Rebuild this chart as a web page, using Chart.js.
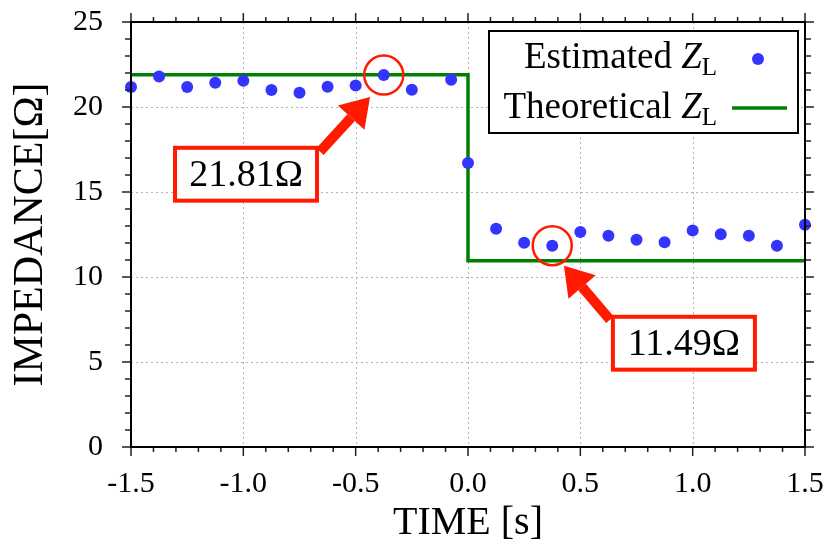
<!DOCTYPE html>
<html>
<head>
<meta charset="utf-8">
<script src="https://cdn.jsdelivr.net/npm/chart.js@4"></script>
<style>
body{margin:0;background:#fff;}
#wrap{width:829px;height:547px;}
</style>
</head>
<body>
<div id="wrap"><canvas id="impChart" width="829" height="547"></canvas></div>
<script>

// ============================================DATA============================================

const estTimes = [-1.5,-1.375,-1.25,-1.125,-1.0,-0.875,-0.75,-0.625,-0.5,-0.375,-0.25,-0.075,0.0,
0.125,0.25,0.375,0.5,0.625,0.75,0.875,1.0,1.125,1.25,1.375,1.5];
const estValues = [21.18,21.8,21.18,21.43,21.55,21.0,20.84,21.19,21.27,21.88,21.02,21.6,16.7,
12.84,12.02,11.84,12.65,12.43,12.19,12.04,12.74,12.51,12.43,11.84,13.08];

const theoryTimes = [-1.5,0,0,1.5];
const theoryValues = [21.9,21.9,10.96,10.96];

const xTicks = [-1.5,-1.0,-0.5,0.0,0.5,1.0,1.5];
const yTicks = [0,5,10,15,20,25];

const annoLabels = ["21.81\u03A9","11.49\u03A9"];

// ============================================STYLE============================================

const FONT = "'Liberation Serif','DejaVu Serif',serif";
const BLUE = "#3434ff";
const GREEN = "#008000";
const RED = "#ff1a00";

// annotations in data coordinates
const annos = [
{circle:[-0.375,21.88], tip:[-0.436,20.59], tail:[-0.659,17.37], box:[-1.304,17.6,-0.672,14.49]},
{circle:[0.375,11.84], tip:[0.427,10.66], tail:[0.632,7.49], box:[0.645,7.66,1.277,4.55]}
];

// ============================================PLUGINS============================================

const gridPlugin = {
id:"gridPlugin",
beforeDatasetsDraw(chart){
const {ctx, chartArea:a, scales:{x,y}} = chart;
ctx.save();
ctx.strokeStyle = "#b4b4b4";
ctx.lineWidth = 1;
ctx.setLineDash([2,3]);
xTicks.forEach(v=>{
const px = Math.round(x.getPixelForValue(v))+0.5;
ctx.beginPath(); ctx.moveTo(px,a.top); ctx.lineTo(px,a.bottom); ctx.stroke();
});
yTicks.forEach(v=>{
const py = Math.round(y.getPixelForValue(v))+0.5;
ctx.beginPath(); ctx.moveTo(a.left,py); ctx.lineTo(a.right,py); ctx.stroke();
});
ctx.restore();
}
};

function arrow(ctx, x0, y0, x1, y1){
const ang = Math.atan2(y1-y0, x1-x0);
const headLen = 28, headW = 18;
const bx = x1 - headLen*Math.cos(ang), by = y1 - headLen*Math.sin(ang);
ctx.beginPath();
ctx.lineWidth = 10;
ctx.lineCap = "butt";
ctx.moveTo(x0,y0); ctx.lineTo(bx,by); ctx.stroke();
ctx.beginPath();
ctx.moveTo(x1,y1);
ctx.lineTo(bx + headW*Math.sin(ang), by - headW*Math.cos(ang));
ctx.lineTo(bx - headW*Math.sin(ang), by + headW*Math.cos(ang));
ctx.closePath();
ctx.fill();
}

function legendRow(ctx, right, base, word){
ctx.font = "25px "+FONT;
const wL = ctx.measureText("L").width;
ctx.font = "italic 37px "+FONT;
const wZ = ctx.measureText("Z").width;
ctx.font = "37px "+FONT;
const wW = ctx.measureText(word+" ").width;
let sx = right - wL - wZ - wW;
ctx.fillText(word+" ", sx, base);
sx += wW;
ctx.font = "italic 37px "+FONT;
ctx.fillText("Z", sx, base);
sx += wZ;
ctx.font = "25px "+FONT;
ctx.fillText("L", sx, base+7);
}

const framePlugin = {
id:"framePlugin",
afterDatasetsDraw(chart){
const {ctx, chartArea:a, scales:{x,y}} = chart;
ctx.save();

// ticks (major + minor, outward on all four sides)
ctx.strokeStyle = "#222";
ctx.lineWidth = 1.5;
for(let i=-15;i<=15;i++){
const px = x.getPixelForValue(i/10);
const len = (i%5===0) ? 9 : 5;
ctx.beginPath();
ctx.moveTo(px,a.bottom); ctx.lineTo(px,a.bottom+len);
ctx.moveTo(px,a.top); ctx.lineTo(px,a.top-len);
ctx.stroke();
}
for(let j=0;j<=25;j++){
const py = y.getPixelForValue(j);
const len = (j%5===0) ? 9 : 6;
ctx.beginPath();
ctx.moveTo(a.left,py); ctx.lineTo(a.left-len,py);
ctx.moveTo(a.right,py); ctx.lineTo(a.right+len,py);
ctx.stroke();
}

// frame
ctx.strokeStyle = "#000";
ctx.lineWidth = 2;
ctx.strokeRect(a.left,a.top,a.right-a.left,a.bottom-a.top);

// legend
const lx = a.right-316, ly = a.top+9;
ctx.fillStyle = "#fff";
ctx.fillRect(lx,ly,309,102);
ctx.lineWidth = 2;
ctx.strokeRect(lx,ly,309,102);
ctx.fillStyle = "#000";
ctx.textAlign = "left";
ctx.textBaseline = "alphabetic";
legendRow(ctx, lx+228, ly+37, "Estimated");
legendRow(ctx, lx+228, ly+87, "Theoretical");
ctx.fillStyle = BLUE;
ctx.beginPath(); ctx.arc(lx+269, ly+28, 6, 0, Math.PI*2); ctx.fill();
ctx.strokeStyle = GREEN;
ctx.lineWidth = 3.5;
ctx.beginPath(); ctx.moveTo(lx+243, ly+77); ctx.lineTo(lx+298, ly+77); ctx.stroke();

// annotations
ctx.strokeStyle = RED;
ctx.fillStyle = RED;
annos.forEach((an,k)=>{
ctx.lineWidth = 2.5;
ctx.beginPath();
ctx.arc(x.getPixelForValue(an.circle[0]), y.getPixelForValue(an.circle[1]), 19.5, 0, Math.PI*2);
ctx.stroke();
arrow(ctx, x.getPixelForValue(an.tail[0]), y.getPixelForValue(an.tail[1]),
x.getPixelForValue(an.tip[0]), y.getPixelForValue(an.tip[1]));
const bx0 = x.getPixelForValue(an.box[0]), by0 = y.getPixelForValue(an.box[1]);
const bx1 = x.getPixelForValue(an.box[2]), by1 = y.getPixelForValue(an.box[3]);
ctx.fillStyle = "#fff";
ctx.fillRect(bx0,by0,bx1-bx0,by1-by0);
ctx.lineWidth = 4;
ctx.strokeRect(bx0,by0,bx1-bx0,by1-by0);
ctx.fillStyle = "#000";
ctx.font = "38px "+FONT;
ctx.textAlign = "center";
ctx.textBaseline = "middle";
ctx.fillText(annoLabels[k], (bx0+bx1)/2, (by0+by1)/2+2);
ctx.fillStyle = RED;
});

ctx.restore();
}
};

// ============================================CHART============================================

const ctx = document.getElementById("impChart");

new Chart(ctx,{

data:{
datasets:[
{
type:"scatter",
label:"Estimated Z_L",
data:estTimes.map((t,i)=>({x:t,y:estValues[i]})),
backgroundColor:BLUE,
borderWidth:0,
pointRadius:6,
clip:false
},
{
type:"line",
label:"Theoretical Z_L",
data:theoryTimes.map((t,i)=>({x:t,y:theoryValues[i]})),
borderColor:GREEN,
borderWidth:3.5,
pointRadius:0,
tension:0,
fill:false
}
]
},

options:{
responsive:false,
animation:false,
events:[],
layout:{padding:{top:22,right:24,left:0,bottom:0}},
plugins:{legend:{display:false},tooltip:{enabled:false}},
scales:{
x:{
type:"linear",
min:-1.5,max:1.5,
afterBuildTicks:s=>{ s.ticks = xTicks.map(v=>({value:v})); },
afterFit:s=>{ s.height = 100; s.paddingLeft = 0; s.paddingRight = 0; },
grid:{display:false},
border:{display:false},
ticks:{
padding:11,
color:"#000",
maxRotation:0,
font:{family:FONT,size:30},
callback:v=>v.toFixed(1)
},
title:{
display:true,
text:"TIME [s]",
color:"#000",
font:{family:FONT,size:40},
padding:{top:0,bottom:0}
}
},
y:{
min:0,max:25,
afterBuildTicks:s=>{ s.ticks = yTicks.map(v=>({value:v})); },
afterFit:s=>{ s.width = 131; s.paddingTop = 0; s.paddingBottom = 0; },
grid:{display:false},
border:{display:false},
ticks:{
padding:20,
color:"#000",
font:{family:FONT,size:30}
},
title:{
display:true,
text:"IMPEDANCE[\u03A9]",
color:"#000",
font:{family:FONT,size:42},
padding:{top:6,bottom:0}
}
}
}
},

plugins:[gridPlugin,framePlugin]

});

</script>
</body>
</html>
